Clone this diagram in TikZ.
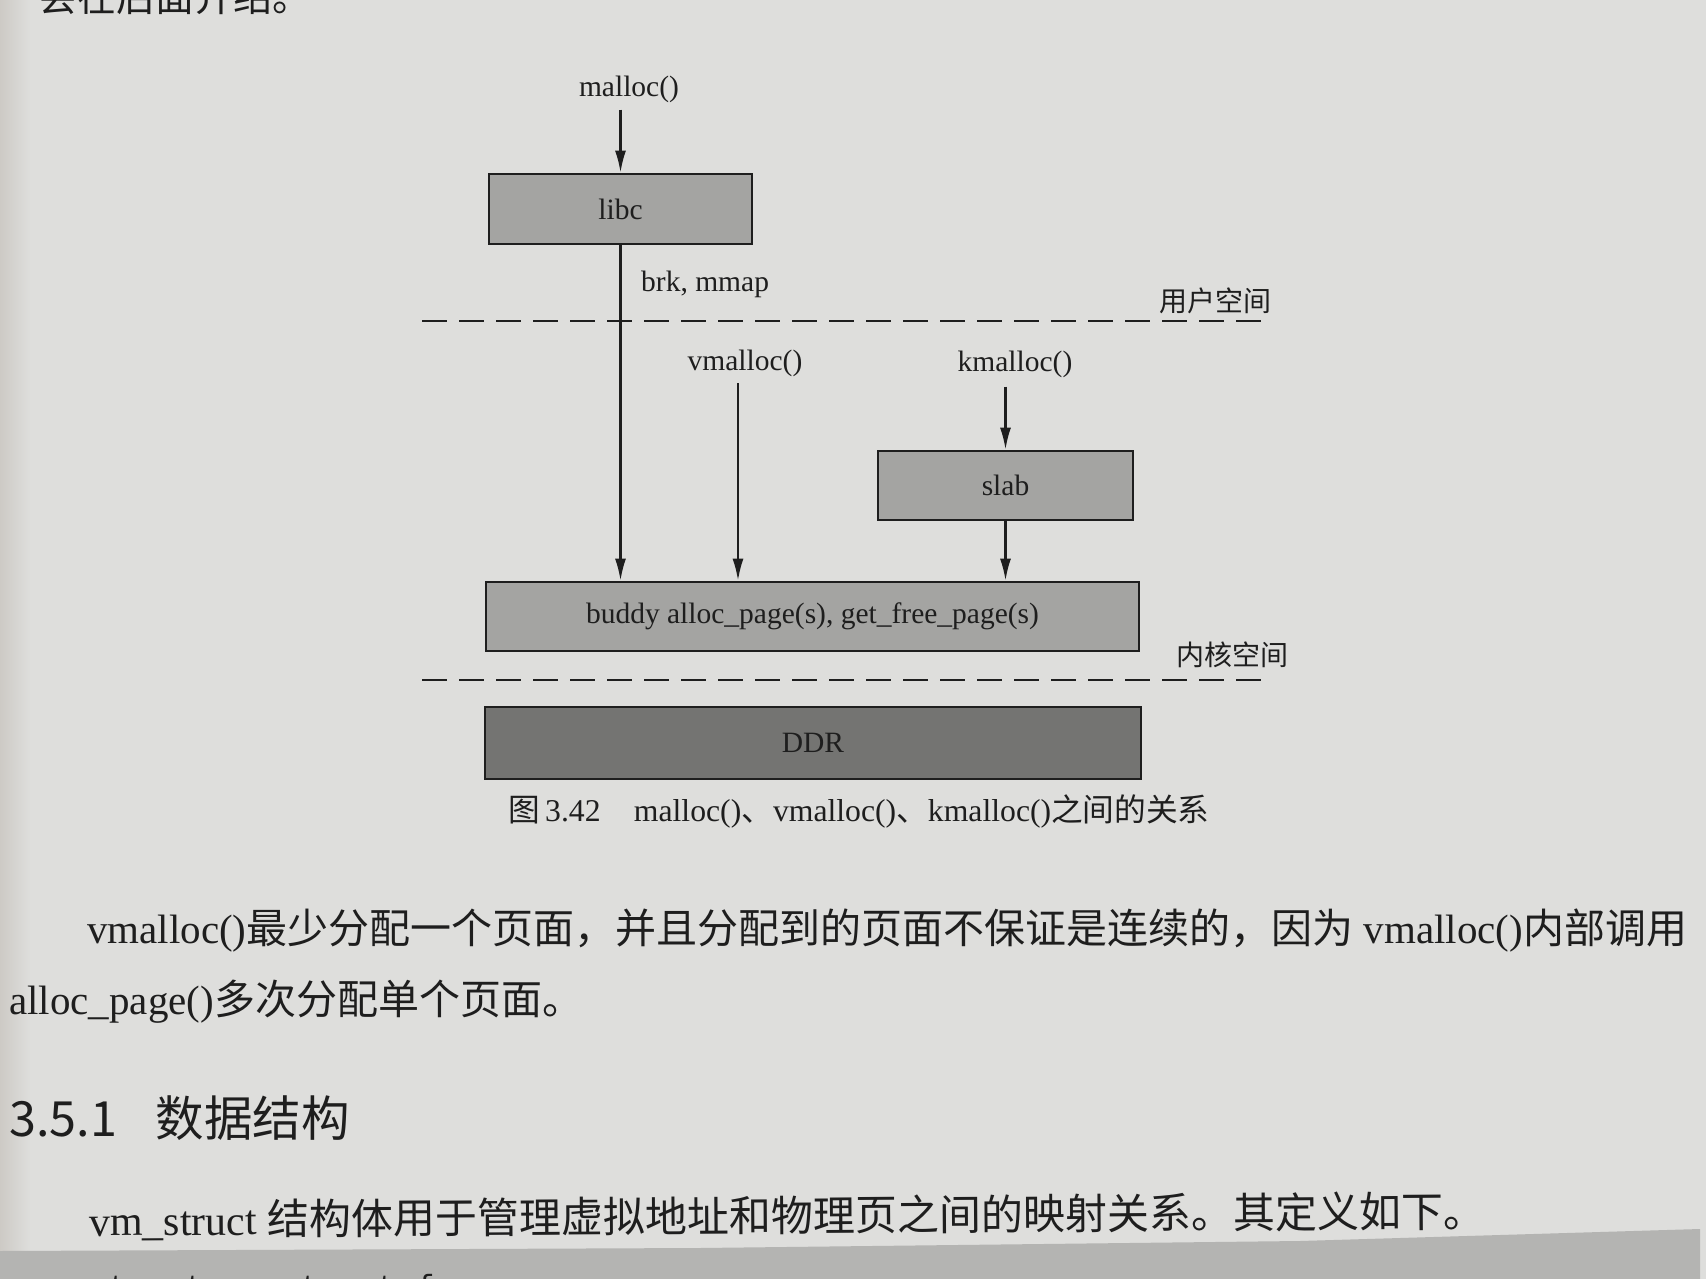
\documentclass[tikz,border=0pt]{standalone}
\usepackage{fontspec}
\setmainfont{Liberation Serif}
\newfontfamily\cjk{Noto Sans CJK SC}
\newfontfamily\codefont{Liberation Mono}
\usetikzlibrary{arrows.meta}

\definecolor{paper}{RGB}{222,222,220}
\definecolor{paperedge}{RGB}{205,202,197}
\definecolor{codeband}{RGB}{180,180,178}
\definecolor{boxgray}{RGB}{164,164,162}
\definecolor{ddrgray}{RGB}{116,116,114}
\definecolor{ink}{RGB}{30,30,30}

\newcommand{\zh}[1]{{\cjk #1}}
\newcommand{\fsz}[1]{\fontsize{#1}{#1}\selectfont}

\begin{document}
\begin{tikzpicture}[x=1pt,y=-1pt,
  every node/.style={text=ink, inner sep=0pt},
  unitbox/.style={draw=ink, line width=2.6pt, fill=boxgray, font=\fsz{29.5}},
  flow/.style={draw=ink, line width=2.3pt, -{Latex[length=22pt,width=11pt]}},
  rim/.style={draw=ink, line width=2.2pt, dash pattern=on 25pt off 12pt},
  lbl/.style={font=\fsz{29.5}},
  zone/.style={font=\cjk\fsz{28}},
  body/.style={font=\fsz{41}, anchor=base west}]

% page
\fill[paper] (0,0) rectangle (1706,1279);
\shade[left color=paperedge, right color=paper] (0,0) rectangle (30,1279);
\useasboundingbox (0,0) rectangle (1706,1279);

% line cut off at the top of the page
\node[body, font=\cjk\fsz{39}] (prev) at (38,12) {会在后面介绍。};

% ---- figure ----
\node[lbl] (mallocl) at (629,89) {malloc()};
\node[unitbox, minimum width=263pt, minimum height=70pt] (libc) at (620.5,209) {libc};
\node[lbl, anchor=west] (brk) at (641,284) {brk, mmap};
\node[zone] (user) at (1215,301) {用户空间};

\node[lbl] (vml) at (745,363) {vmalloc()};
\node[lbl] (kml) at (1015,364) {kmalloc()};
\node[unitbox, minimum width=255pt, minimum height=69pt] (slab) at (1005.5,485.5) {slab};
\node[unitbox, minimum width=653pt, minimum height=69pt] (buddy) at (812.5,616.5)
  {buddy alloc\_page(s), get\_free\_page(s)};
\node[zone] (kernel) at (1232,655) {内核空间};
\node[unitbox, fill=ddrgray, minimum width=656pt, minimum height=72pt] (ddr) at (813,743) {DDR};

% separators between user space, kernel space and memory
\draw[rim] (422,321) -- (1268,321);
\draw[rim] (422,680) -- (1265,680);

% call paths
\draw[flow, shorten <=7pt] (libc.north |- mallocl.south) -- (libc.north);
\draw[flow] (libc.south) -- (libc.south |- buddy.north);
\coordinate (vmtop) at (738,383);
\draw[flow] (vmtop) -- (vmtop |- buddy.north);
\draw[flow, shorten <=9pt] (slab.north |- kml.south) -- (slab.north);
\draw[flow] (slab.south) -- (slab.south |- buddy.north);

% caption
\node[anchor=west, font=\fsz{31.7}] (cap) at (508,811)
  {\zh{图}\,3.42\hspace{1.05em}malloc()\zh{、}vmalloc()\zh{、}kmalloc()\zh{之间的关系}};

% ---- running text ----
\node[body] (para1) at (87,943)
  {vmalloc()\zh{最少分配一个页面，并且分配到的页面不保证是连续的，因为} vmalloc()\zh{内部调用}};
\node[body] (para2) at (9,1014)
  {alloc\_page()\zh{多次分配单个页面。}};
\node[body, font=\cjk\fsz{48.5}] (sec) at (9,1136) {3.5.1\hspace{0.8em}数据结构};

% start of the code listing (shaded block, its edge bends with the page)
\fill[codeband] (0,1251) -- (700,1248) -- (1300,1241) -- (1700,1229) -- (1700,1279) -- (0,1279) -- cycle;
\node[body, font=\codefont\fsz{32}] (code) at (89,1297) {struct vm\_struct \{};

\node[body, font=\fsz{42}, rotate=0.38] (para3) at (89,1236)
  {vm\_struct \zh{结构体用于管理虚拟地址和物理页之间的映射关系。其定义如下。}};
\end{tikzpicture}
\end{document}
